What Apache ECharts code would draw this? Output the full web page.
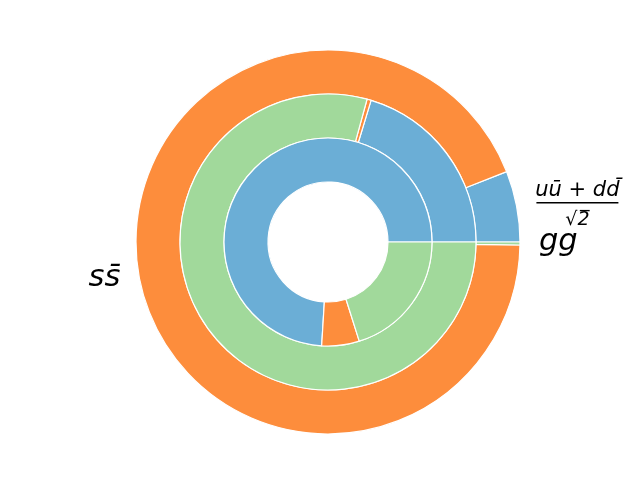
<!DOCTYPE html>
<html>
<head>
<meta charset="utf-8">
<script src="https://cdn.jsdelivr.net/npm/echarts@6/dist/echarts.min.js"></script>
<style>
  html, body { margin: 0; padding: 0; background: #fff; }
  #chart { width: 640px; height: 480px; }
</style>
</head>
<body>
<div id="chart"></div>
<script>
// flavours, same order in every ring (counterclockwise from 3 o'clock)
var categories = ['uū+dd̄/√2', 'ss̄', 'gg'];
var colors = ['#6baed6', '#fd8d3c', '#a1d99b'];

// fractions
var outerValues = [0.0597, 0.9378, 0.0025];
var middleValues = [0.2030, 0.0045, 0.7925];
var innerValues = [0.7403, 0.0583, 0.2014];

function ringData(vals) {
    return vals.map(function (v, i) {
        return { name: categories[i], value: v, itemStyle: { color: colors[i] } };
    });
}

var base = {
    type: 'pie',
    center: [328, 242],
    startAngle: 0,
    clockwise: false,
    avoidLabelOverlap: false,
    silent: true,
    itemStyle: { borderColor: '#fff', borderWidth: 1.2 },
    label: { show: false },
    labelLine: { show: false },
    emphasis: { disabled: true }
};

var labelText = {
    0: '{sp|}\n{num|uū + dd̄}\n{bar|}\n{den|√2\u0305}',
    1: '{ss|ss̄}',
    2: '{gg|gg}'
};

var chart = echarts.init(document.getElementById('chart'));
var option = {
    animation: false,
    backgroundColor: '#fff',
    series: [
        Object.assign({}, base, {
            name: 'outer',
            radius: [148, 192],
            data: ringData(outerValues),
            labelLayout: { hideOverlap: false },
            label: {
                show: true,
                position: 'outside',
                distanceToLabelLine: 0,
                fontFamily: 'DejaVu Sans',
                fontStyle: 'italic',
                color: '#000',
                formatter: function (p) { return labelText[p.dataIndex]; },
                rich: {
                    sp: { height: 11, lineHeight: 11 },
                    num: { fontSize: 21, fontFamily: 'DejaVu Sans', fontStyle: 'italic', height: 22, lineHeight: 22, align: 'center', color: '#000' },
                    bar: { width: 82, height: 1.5, lineHeight: 1.5, backgroundColor: '#000', align: 'center' },
                    den: { fontSize: 19, fontFamily: 'DejaVu Sans', height: 33, lineHeight: 33, align: 'center', color: '#000' },
                    ss: { fontSize: 30.5, fontFamily: 'DejaVu Sans', fontStyle: 'italic', color: '#000', padding: [0, 0, 4, 0] },
                    gg: { fontSize: 30.5, fontFamily: 'DejaVu Sans', fontStyle: 'italic', color: '#000', padding: [0, 0, 4, 0] }
                }
            },
            labelLine: { show: false, length: 19, length2: 0 }
        }),
        Object.assign({}, base, {
            name: 'middle',
            radius: [104, 148],
            data: ringData(middleValues)
        }),
        Object.assign({}, base, {
            name: 'inner',
            radius: [60, 104],
            data: ringData(innerValues)
        })
    ]
};
chart.setOption(option);
</script>
</body>
</html>
